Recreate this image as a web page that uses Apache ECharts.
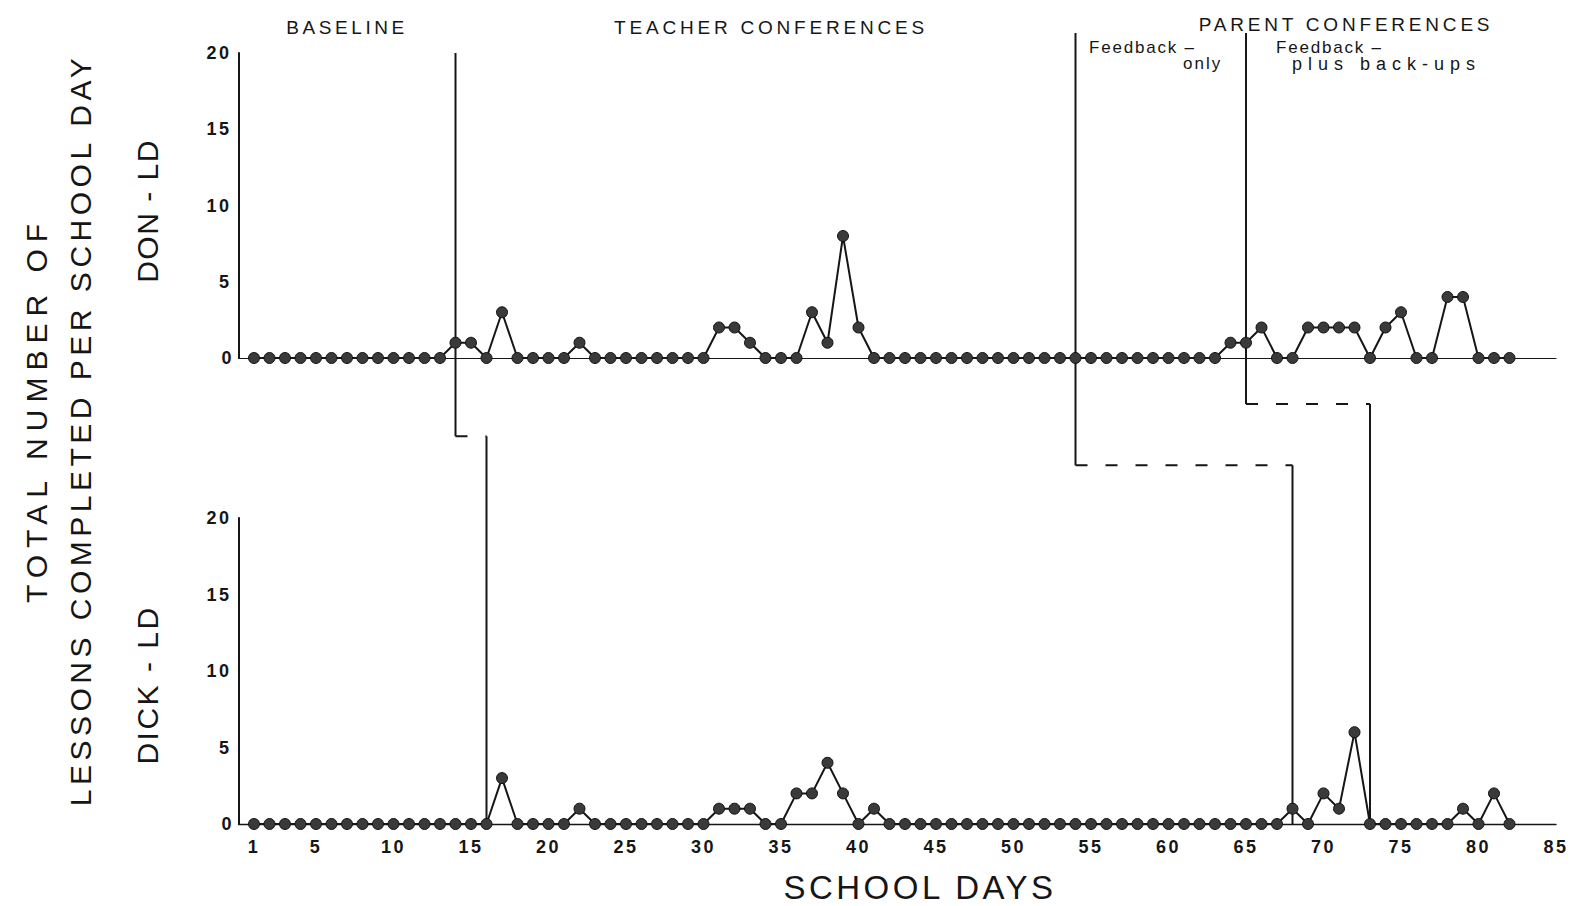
<!DOCTYPE html>
<html><head><meta charset="utf-8">
<script src="https://cdn.jsdelivr.net/npm/echarts@6/dist/echarts.min.js"></script>
<style>html,body{margin:0;padding:0;background:#fff}#c{width:1575px;height:906px}</style>
</head><body><div id="c"></div>
<script>
// ---- data ----
const days = [1,2,3,4,5,6,7,8,9,10,11,12,13,14,15,16,17,18,19,20,21,22,23,24,25,26,27,28,29,30,
  31,32,33,34,35,36,37,38,39,40,41,42,43,44,45,46,47,48,49,50,51,52,53,54,55,56,57,58,59,60,
  61,62,63,64,65,66,67,68,69,70,71,72,73,74,75,76,77,78,79,80,81,82];
const donLD = [0,0,0,0,0,0,0,0,0,0, 0,0,0,1,1,0,3,0,0,0, 0,1,0,0,0,0,0,0,0,0,
  2,2,1,0,0,0,3,1,8,2, 0,0,0,0,0,0,0,0,0,0, 0,0,0,0,0,0,0,0,0,0,
  0,0,0,1,1,2,0,0,2,2, 2,2,0,2,3,0,0,4,4,0, 0,0];
const dickLD = [0,0,0,0,0,0,0,0,0,0, 0,0,0,0,0,0,3,0,0,0, 0,1,0,0,0,0,0,0,0,0,
  1,1,1,0,0,2,2,4,2,0, 1,0,0,0,0,0,0,0,0,0, 0,0,0,0,0,0,0,0,0,0,
  0,0,0,0,0,0,0,1,0,2, 1,6,0,0,0,0,0,0,1,0, 2,0];
const xTickLabels = [1,5,10,15,20,25,30,35,40,45,50,55,60,65,70,75,80,85];
const yTickLabels = [0,5,10,15,20];
const topChangeDays = [14, 54, 65];     // phase change in DON-LD
const bottomChangeDays = [16, 68, 73];  // phase change in DICK-LD
const phaseTitles = ['BASELINE', 'TEACHER CONFERENCES', 'PARENT CONFERENCES'];
const subPhaseTitles = ['Feedback –', 'only', 'Feedback –', 'plus back-ups'];
const studentNames = ['DON - LD', 'DICK - LD'];
const yTitleLines = ['TOTAL NUMBER OF', 'LESSONS COMPLETED PER SCHOOL DAY'];
const xTitle = 'SCHOOL DAYS';

// ---- layout ----
const L = 238.5, W = 1317.5;
const stepLevels = [-5.1, -7.0, -3.0];   // overlay units (top-panel value scale)
const startLevels = [20, 21.3, 21.3];
const OV_MIN = -30.5, OV_MAX = 21.5;
const INK = '#161616';
const FONT = "'Liberation Sans', Arial, Helvetica, sans-serif";

const spacing = {};
function sp(t, v){ spacing[t] = v; }

const pts = arr => days.map((d, i) => [d, arr[i]]);

const xBase = {type:'value', min:0, max:85, splitLine:{show:false}, axisTick:{show:false}};
const yBase = {type:'value', min:0, max:20, interval:5, splitLine:{show:false}, axisTick:{show:false},
  axisLine:{show:true, lineStyle:{color:INK, width:2}},
  axisLabel:{customValues:yTickLabels, color:INK, fontWeight:'bold', fontSize:18, fontFamily:FONT, margin:7}};

const dataSeries = (arr, idx) => ({
  type:'line', xAxisIndex:idx, yAxisIndex:idx, data:pts(arr), symbol:'circle', symbolSize:11,
  showSymbol:true, z:5,
  lineStyle:{color:INK, width:2}, itemStyle:{color:'#3a3a3a', borderColor:'#111', borderWidth:1},
  emphasis:{disabled:true}, animation:false
});

const phaseSeries = [];
topChangeDays.forEach((td, i) => {
  const bd = bottomChangeDays[i], s = stepLevels[i];
  const common = {type:'line', xAxisIndex:2, yAxisIndex:2, symbol:'none', z:4, animation:false, clip:false, emphasis:{disabled:true}};
  phaseSeries.push(Object.assign({}, common, {data:[[td, startLevels[i]], [td, s]], lineStyle:{color:INK, width:2}}));
  phaseSeries.push(Object.assign({}, common, {data:[[td, s], [bd, s]], lineStyle:{color:INK, width:2, type:[12,18]}}));
  phaseSeries.push(Object.assign({}, common, {data:[[bd, s], [bd, OV_MIN]], lineStyle:{color:INK, width:2}}));
});

function txt(text, x, y, size, opts){
  opts = opts || {};
  if (opts.sp != null) sp(text, opts.sp);
  return {type:'text', x:x, y:y, rotation:opts.rot || 0, z:10,
    style:{text:text, fill:INK, font:(opts.weight || 'normal') + ' ' + size + 'px ' + FONT,
      textAlign:opts.align || 'center', textVerticalAlign:'middle', align:opts.align || 'center', verticalAlign:'middle'}};
}
const R = Math.PI / 2;
const graphics = [
  txt(phaseTitles[0], 347, 27, 19, {sp:3.6}),
  txt(phaseTitles[1], 771, 27, 19, {sp:3.8}),
  txt(phaseTitles[2], 1346, 24, 19, {sp:3.8}),
  txt(subPhaseTitles[0], 1089, 47, 17, {align:'left', sp:1.8}),
  txt(subPhaseTitles[1], 1183, 63, 17, {align:'left', sp:2}),
  txt(subPhaseTitles[2], 1276, 47, 17, {align:'left', sp:1.8}),
  txt(subPhaseTitles[3], 1292, 64, 18, {align:'left', sp:6}),
  txt(yTitleLines[0], 36, 410, 30, {rot:R, sp:7}),
  txt(yTitleLines[1], 80, 430, 30, {rot:R, sp:4.5}),
  txt(studentNames[0], 147, 211, 30, {rot:R, sp:1.5}),
  txt(studentNames[1], 147, 685, 30, {rot:R, sp:2.5}),
  txt(xTitle, 920, 887, 33, {sp:3.5})
];
xTickLabels.forEach(v => sp(String(v), 2.5));

const chart = echarts.init(document.getElementById('c'), null, {renderer:'svg'});
chart.setOption({
  backgroundColor:'#ffffff',
  animation:false,
  grid:[
    {left:L, width:W, top:53, height:305, outerBoundsMode:'none', containLabel:false},
    {left:L, width:W, top:518, height:306, outerBoundsMode:'none', containLabel:false},
    {left:L, width:W, top:30, height:794, outerBoundsMode:'none', containLabel:false}
  ],
  xAxis:[
    Object.assign({}, xBase, {gridIndex:0, axisLine:{show:true, lineStyle:{color:INK, width:1.2}}, axisLabel:{show:false}}),
    Object.assign({}, xBase, {gridIndex:1, axisLine:{show:true, lineStyle:{color:INK, width:1.4}},
      axisLabel:{customValues:xTickLabels, color:INK, fontWeight:'bold', fontSize:18, fontFamily:FONT, margin:14}}),
    Object.assign({}, xBase, {gridIndex:2, show:false})
  ],
  yAxis:[
    Object.assign({}, yBase, {gridIndex:0}),
    Object.assign({}, yBase, {gridIndex:1}),
    {type:'value', gridIndex:2, min:OV_MIN, max:OV_MAX, show:false, splitLine:{show:false}}
  ],
  series:[dataSeries(donLD, 0), dataSeries(dickLD, 1)].concat(phaseSeries),
  graphic:graphics
});
function applySpacing(){
  document.querySelectorAll('#c svg text').forEach(t => {
    const s = spacing[t.textContent];
    if (s != null) t.style.letterSpacing = s + 'px';
  });
}
chart.on('finished', applySpacing);
applySpacing();
setTimeout(applySpacing, 50);
</script></body></html>
